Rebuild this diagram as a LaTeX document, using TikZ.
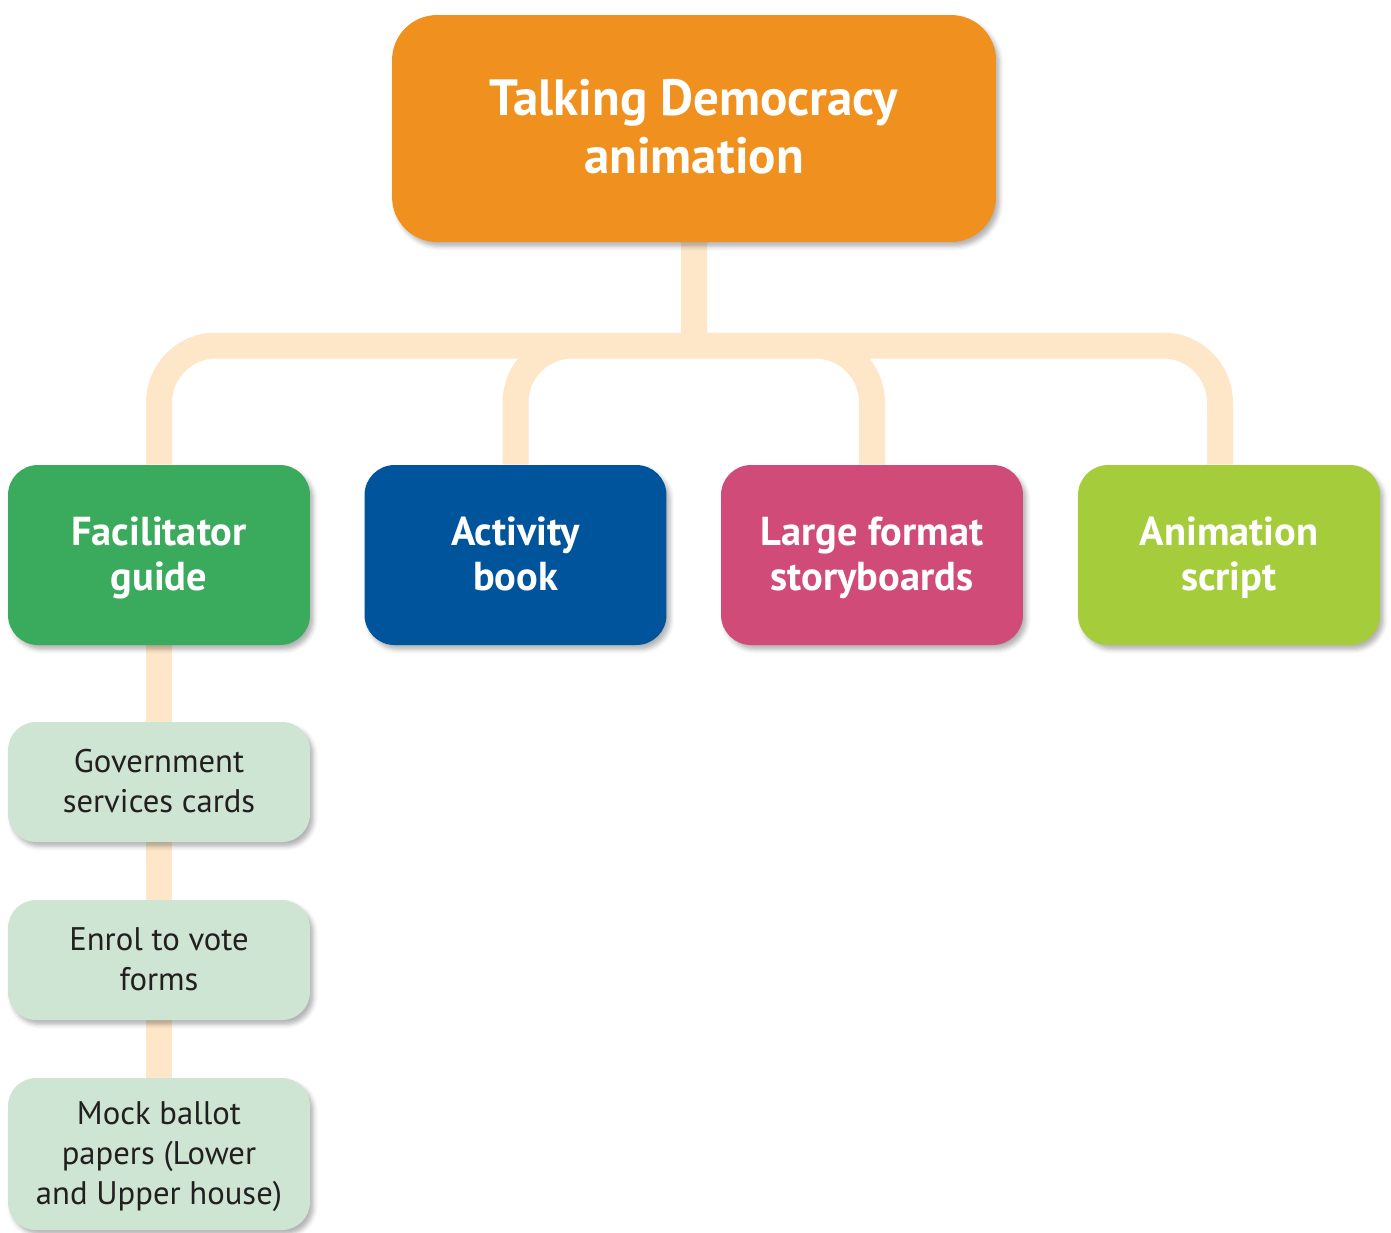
\documentclass[tikz,border=0pt]{standalone}
\usepackage{fontspec}
\setmainfont{PT Sans}
\usetikzlibrary{shadows.blur,backgrounds}
\definecolor{orangeC}{HTML}{F0901F}
\definecolor{greenC}{HTML}{3AAA5C}
\definecolor{blueC}{HTML}{00549C}
\definecolor{pinkC}{HTML}{D04B78}
\definecolor{limeC}{HTML}{A5CC3A}
\definecolor{paleC}{HTML}{CDE5D2}
\definecolor{connC}{HTML}{FEE7C9}
\definecolor{darkC}{HTML}{231F20}
\newcommand{\dstrut}{\rule[-0.24em]{0pt}{0pt}}
\newcommand{\ustrut}{\rule{0pt}{0.88em}}
\begin{document}
\begin{tikzpicture}[x=0.02cm,y=-0.02cm,
  shad/.style={blur shadow={shadow xshift=2pt,shadow yshift=-2.5pt,shadow opacity=30,shadow blur radius=2.5pt}},
  topbox/.style={shad,fill=orangeC,rounded corners=0.9cm,text=white,align=center,
    minimum width=12.08cm,minimum height=4.54cm,inner sep=0pt,
    font=\fontsize{29}{33}\selectfont\bfseries},
  mainbox/.style={shad,rounded corners=0.6cm,text=white,align=center,
    minimum width=6.04cm,minimum height=3.6cm,inner sep=0pt,
    font=\fontsize{23}{26}\selectfont\bfseries},
  subbox/.style={shad,fill=paleC,rounded corners=0.56cm,text=darkC,align=center,
    minimum width=6.04cm,inner sep=0pt,
    font=\fontsize{18.6}{22.7}\selectfont},
  conn/.style={draw=connC,line width=0.52cm}
]
\useasboundingbox (0,0) rectangle (1391,1232);
\node[topbox] (top) at (694,128.5) {\ustrut Talking Democracy\\animation\dstrut};
\node[mainbox,fill=greenC] (fac) at (159,555) {\ustrut Facilitator\\guide\dstrut};
\node[mainbox,fill=blueC] (act) at (515.5,555) {\ustrut Activity\\book\dstrut};
\node[mainbox,fill=pinkC] (story) at (872,555) {\ustrut Large format\\storyboards\dstrut};
\node[mainbox,fill=limeC] (script) at (1229,555) {\ustrut Animation\\script\dstrut};
\node[subbox,minimum height=2.4cm] (gov) at (159,782) {\ustrut Government\\services cards\dstrut};
\node[subbox,minimum height=2.4cm] (enrol) at (159,960) {\ustrut Enrol to vote\\forms\dstrut};
\node[subbox,minimum height=3.04cm] (mock) at (159,1154) {\ustrut Mock ballot\\papers (Lower\\and Upper house)\dstrut};
\begin{scope}[on background layer]
  \coordinate (j) at (694,345.5);
  \draw[conn,rounded corners=1.14cm]
    (top.south) -- (j)
    (fac.north) |- (j)
    (act.north) |- (j)
    (story.north) |- (j)
    ([xshift=-0.18cm]script.north) |- (j);
  \draw[conn] (fac.south) -- (gov.north)
    (gov.south) -- (enrol.north)
    (enrol.south) -- (mock.north);
\end{scope}
\end{tikzpicture}
\end{document}
